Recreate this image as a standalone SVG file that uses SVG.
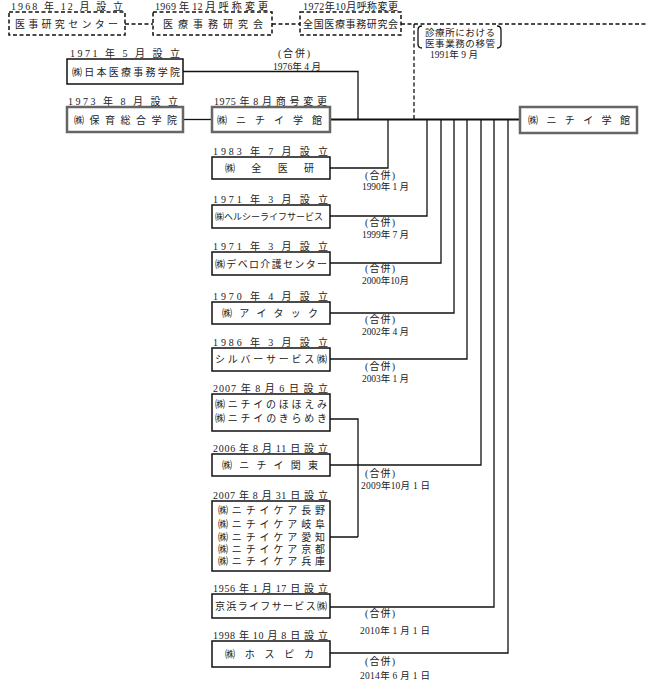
<svg xmlns="http://www.w3.org/2000/svg" width="646" height="690" viewBox="0 0 646 690">
<style>
.t{font-family:"Liberation Serif","Noto Sans CJK JP",serif;font-size:10px;fill:#222}
.s{font-size:9.5px}
.b{fill:#fff;stroke:#111;stroke-width:1.5}
.bg{fill:#fff;stroke:#666;stroke-width:2.5}
.bd{fill:#fff;stroke:#111;stroke-width:1.5;stroke-dasharray:4 2.5}
.c{fill:none;stroke:#111;stroke-width:1.3}
.m{fill:none;stroke:#111;stroke-width:2}
.cd{fill:none;stroke:#111;stroke-width:1.3;stroke-dasharray:4 2.5}
</style>
<rect width="646" height="690" fill="#fff"/>
<g id="connectors">
<path class="cd" d="M125,24H153M272,24H300M401,24H646M414,24V119"/>
<path class="c" d="M183,71.5H358V119.5"/>
<path class="c" d="M183,119.5H212"/>
<path class="m" d="M330,119.5H520"/>
<path class="c" d="M330,168H388V119.5"/>
<path class="c" d="M330,216H427V119.5"/>
<path class="c" d="M330,263H441V119.5"/>
<path class="c" d="M330,313H454V119.5"/>
<path class="c" d="M330,359H467V119.5"/>
<path class="c" d="M330,419H358V537M330,537H358"/>
<path class="c" d="M330,465H481V119.5"/>
<path class="c" d="M330,607H494V119.5"/>
<path class="c" d="M330,653H508V119.5"/>
</g>
<g id="merge-labels">
<text class="t" x="278" y="57" textLength="32" lengthAdjust="spacing">(合併)</text>
<text class="t s" x="273" y="70" textLength="48" lengthAdjust="spacing">1976年 4 月</text>
<text class="t" x="365" y="179" textLength="30" lengthAdjust="spacing">(合併)</text>
<text class="t s" x="362" y="190" textLength="47" lengthAdjust="spacing">1990年 1 月</text>
<text class="t" x="365" y="226" textLength="30" lengthAdjust="spacing">(合併)</text>
<text class="t s" x="362" y="238" textLength="47" lengthAdjust="spacing">1999年 7 月</text>
<text class="t" x="365" y="272" textLength="30" lengthAdjust="spacing">(合併)</text>
<text class="t s" x="362" y="284" textLength="47" lengthAdjust="spacing">2000年10月</text>
<text class="t" x="365" y="323" textLength="30" lengthAdjust="spacing">(合併)</text>
<text class="t s" x="362" y="335" textLength="47" lengthAdjust="spacing">2002年 4 月</text>
<text class="t" x="365" y="370" textLength="30" lengthAdjust="spacing">(合併)</text>
<text class="t s" x="362" y="382" textLength="47" lengthAdjust="spacing">2003年 1 月</text>
<text class="t" x="365" y="477" textLength="30" lengthAdjust="spacing">(合併)</text>
<text class="t s" x="361" y="489" textLength="69" lengthAdjust="spacing">2009年10月 1 日</text>
<text class="t" x="365" y="617" textLength="30" lengthAdjust="spacing">(合併)</text>
<text class="t s" x="360" y="634" textLength="70" lengthAdjust="spacing">2010年 1 月 1 日</text>
<text class="t" x="365" y="665" textLength="30" lengthAdjust="spacing">(合併)</text>
<text class="t s" x="360" y="679" textLength="70" lengthAdjust="spacing">2014年 6 月 1 日</text>
</g>
<g id="note-1991">
<path class="c" d="M422,26Q418,26 418,30V44Q418,48 422,48" stroke-width="1.2"/>
<path class="c" d="M497,26Q501,26 501,30V44Q501,48 497,48" stroke-width="1.2"/>
<text class="t s" x="425" y="35.5" textLength="70" lengthAdjust="spacing">診療所における</text>
<text class="t s" x="425" y="47" textLength="70" lengthAdjust="spacing">医事業務の移管</text>
<text class="t s" x="430" y="58" textLength="48" lengthAdjust="spacing">1991年 9 月</text>
</g>
<g id="n1968">
<text class="t" x="11" y="10" textLength="112" lengthAdjust="spacing">1968 年 12 月 設 立</text>
<rect class="bd" x="9" y="12" width="116" height="23"/>
<text class="t" x="15" y="27.5" textLength="103" lengthAdjust="spacing">医事研究センター</text>
</g>
<g id="n1969">
<text class="t" x="155" y="10" textLength="113" lengthAdjust="spacing">1969 年 12 月 呼 称 変 更</text>
<rect class="bd" x="153" y="12" width="119" height="23"/>
<text class="t" x="163" y="27.5" textLength="100" lengthAdjust="spacing">医療事務研究会</text>
</g>
<g id="n1972">
<text class="t" x="303" y="10" textLength="95" lengthAdjust="spacing">1972年10月呼称変更</text>
<rect class="bd" x="300" y="12" width="101" height="23"/>
<text class="t" x="303" y="27.5" textLength="95" lengthAdjust="spacing">全国医療事務研究会</text>
</g>
<g id="n1971a">
<text class="t" x="70" y="57" textLength="110" lengthAdjust="spacing">1971 年 5 月 設 立</text>
<rect class="b" x="67" y="59" width="116" height="25"/>
<text class="t" x="72" y="75.5" textLength="108" lengthAdjust="spacing">㈱日本医療事務学院</text>
</g>
<g id="n1973">
<text class="t" x="68" y="105" textLength="110" lengthAdjust="spacing">1973 年 8 月 設 立</text>
<rect class="bg" x="67" y="107" width="116" height="25"/>
<text class="t" x="74" y="123.5" textLength="103" lengthAdjust="spacing">㈱保育総合学院</text>
</g>
<g id="n1975">
<text class="t" x="214" y="105" textLength="113" lengthAdjust="spacing">1975 年 8 月 商 号 変 更</text>
<rect class="bg" x="212" y="107" width="118" height="25"/>
<text class="t" x="217" y="123.5" textLength="105" lengthAdjust="spacing">㈱ ニ チ イ 学 館</text>
</g>
<g id="nfinal">
<rect class="bg" x="520" y="107" width="117" height="26"/>
<text class="t" x="528" y="124" textLength="102" lengthAdjust="spacing">㈱ ニ チ イ 学 館</text>
</g>
<g id="n1983">
<text class="t" x="213" y="155" textLength="115" lengthAdjust="spacing">1983 年 7 月 設 立</text>
<rect class="b" x="212" y="157" width="118" height="22"/>
<text class="t" x="225" y="171.5" textLength="89" lengthAdjust="spacing">㈱ 全 医 研</text>
</g>
<g id="n1971b">
<text class="t" x="213" y="203" textLength="115" lengthAdjust="spacing">1971 年 3 月 設 立</text>
<rect class="b" x="212" y="205" width="118" height="23"/>
<text class="t" x="215" y="220" textLength="108" lengthAdjust="spacingAndGlyphs" style="font-size:9px">㈱ヘルシーライフサービス</text>
</g>
<g id="n1971c">
<text class="t" x="213" y="250" textLength="115" lengthAdjust="spacing">1971 年 3 月 設 立</text>
<rect class="b" x="212" y="252" width="118" height="23"/>
<text class="t" x="215" y="267.5" textLength="112" lengthAdjust="spacing">㈱デベロ介護センター</text>
</g>
<g id="n1970">
<text class="t" x="213" y="300" textLength="115" lengthAdjust="spacing">1970 年 4 月 設 立</text>
<rect class="b" x="212" y="302" width="118" height="22"/>
<text class="t" x="222" y="317" textLength="96" lengthAdjust="spacing">㈱ ア イ タ ッ ク</text>
</g>
<g id="n1986">
<text class="t" x="213" y="346" textLength="115" lengthAdjust="spacing">1986 年 3 月 設 立</text>
<rect class="b" x="212" y="348" width="118" height="23"/>
<text class="t" x="215" y="363" textLength="112" lengthAdjust="spacing">シルバーサービス㈱</text>
</g>
<g id="n2007a">
<text class="t" x="213" y="392" textLength="115" lengthAdjust="spacing">2007 年 8 月 6 日 設 立</text>
<rect class="b" x="212" y="394" width="118" height="37"/>
<text class="t" x="215" y="407.5" textLength="112" lengthAdjust="spacing">㈱ニチイのほほえみ</text>
<text class="t" x="215" y="421.5" textLength="112" lengthAdjust="spacing">㈱ニチイのきらめき</text>
</g>
<g id="n2006">
<text class="t" x="213" y="452" textLength="115" lengthAdjust="spacing">2006 年 8 月 11 日 設 立</text>
<rect class="b" x="212" y="454" width="118" height="22"/>
<text class="t" x="222" y="469" textLength="96" lengthAdjust="spacing">㈱ ニ チ イ 関 東</text>
</g>
<g id="n2007b">
<text class="t" x="213" y="499" textLength="115" lengthAdjust="spacing">2007 年 8 月 31 日 設 立</text>
<rect class="b" x="212" y="501" width="118" height="70"/>
<text class="t" x="218" y="514" textLength="107" lengthAdjust="spacing">㈱ニチイケア長野</text>
<text class="t" x="218" y="527.5" textLength="107" lengthAdjust="spacing">㈱ニチイケア岐阜</text>
<text class="t" x="218" y="540.5" textLength="107" lengthAdjust="spacing">㈱ニチイケア愛知</text>
<text class="t" x="218" y="552.5" textLength="107" lengthAdjust="spacing">㈱ニチイケア京都</text>
<text class="t" x="218" y="564.5" textLength="107" lengthAdjust="spacing">㈱ニチイケア兵庫</text>
</g>
<g id="n1956">
<text class="t" x="213" y="592" textLength="115" lengthAdjust="spacing">1956 年 1 月 17 日 設 立</text>
<rect class="b" x="212" y="594" width="118" height="24"/>
<text class="t" x="215" y="610" textLength="112" lengthAdjust="spacing">京浜ライフサービス㈱</text>
</g>
<g id="n1998">
<text class="t" x="213" y="639" textLength="115" lengthAdjust="spacing">1998 年 10 月 8 日 設 立</text>
<rect class="b" x="212" y="641" width="118" height="26"/>
<text class="t" x="225" y="657.5" textLength="89" lengthAdjust="spacing">㈱ ホ ス ピ カ</text>
</g>
</svg>
